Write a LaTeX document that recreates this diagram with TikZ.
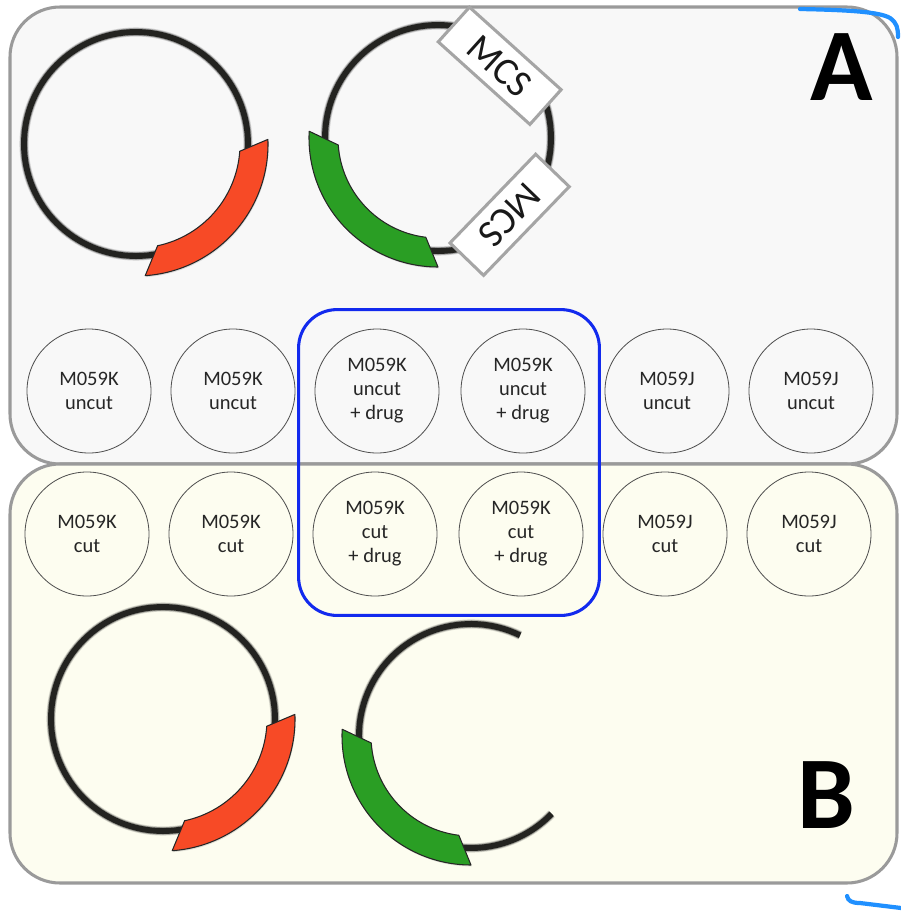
\documentclass[tikz,border=0pt]{standalone}
\usepackage{fontspec}
\setmainfont{Carlito}
\usetikzlibrary{fit,shadows}

\definecolor{panelgray}{RGB}{154,154,154}
\definecolor{panelA}{RGB}{248,248,248}
\definecolor{panelB}{RGB}{253,253,240}
\definecolor{dnablack}{RGB}{35,35,32}
\definecolor{ampred}{RGB}{247,74,38}
\definecolor{neogreen}{RGB}{42,158,36}
\definecolor{mcsgray}{RGB}{165,165,165}
\definecolor{groupblue}{RGB}{18,42,238}
\definecolor{markblue}{RGB}{32,144,255}
\definecolor{wellgray}{RGB}{80,80,80}

\begin{document}
\begin{tikzpicture}[x=0.03cm, y=0.03cm,
	panel/.style={draw=panelgray, line width=2.6pt, rounded corners=1.5cm},
	dna/.style={draw=dnablack, line width=5pt, preaction={draw=black, opacity=.15, line width=7.8pt}, preaction={draw=black, opacity=.3, line width=6.4pt}},
	marker/.style={draw=black!85, line width=0.9pt, line join=round, drop shadow={opacity=.25, shadow xshift=.6pt, shadow yshift=-1.2pt}},
	mcs/.style={draw=mcsgray, fill=white, line width=2.6pt, minimum width=3.7cm, minimum height=1.4cm, inner sep=0pt, text=black!90, font=\fontsize{33}{33}\selectfont},
	well/.style={circle, draw=wellgray, line width=0.7pt, minimum size=3.72cm, inner sep=0pt, align=center, text=black!85, font=\fontsize{17.5}{20.5}\selectfont},
	group/.style={draw=groupblue, line width=2.6pt, rounded corners=1.15cm, inner xsep=0.42cm, inner ysep=0.57cm},
	tag/.style={font=\bfseries\fontsize{88}{88}\selectfont},
	scribble/.style={draw=markblue, line width=3.6pt, line cap=round}]
	\useasboundingbox (0,0) rectangle (901,-913);

	% the two panels
	\draw[panel, fill=panelA] (10,-7) rectangle (897,-464);
	\draw[panel, fill=panelB] (10,-464) rectangle (897,-883);
	\node[tag] (tagA) at (842,-67) {A};
	\node[tag] (tagB) at (826,-795) {B};

	% plasmid with resistance gene
	\begin{scope}[shift={(136,-144)}]
		\draw[dna] (0,0) circle[radius=112];
		\filldraw[marker, fill=ampred] (-4:104) arc[start angle=-4, end angle=-78, radius=104] -- (-86:132) arc[start angle=-86, end angle=2, radius=132] -- cycle;
	\end{scope}

	% plasmid with two cloning sites
	\begin{scope}[shift={(438,-138)}]
		\draw[dna] (0,0) circle[radius=113];
		\filldraw[marker, fill=neogreen] (184:100) arc[start angle=184, end angle=263, radius=100] -- (270:129) arc[start angle=270, end angle=177, radius=129] -- cycle;
		\node[mcs, rotate=-42] (mcsTop) at (49.5:95) {MCS};
		\node[mcs, rotate=-134] (mcsBottom) at (-47:105) {MCS};
	\end{scope}

	% uncut wells
	\node[well] (w1) at (89,-391) {M059K\\uncut};
	\node[well] (w2) at (233,-391) {M059K\\uncut};
	\node[well] (w3) at (377,-391) {M059K\\uncut\\+ drug};
	\node[well] (w4) at (523,-391) {M059K\\uncut\\+ drug};
	\node[well] (w5) at (667,-391) {M059J\\uncut};
	\node[well] (w6) at (811,-391) {M059J\\uncut};

	% cut wells
	\node[well] (c1) at (87,-534) {M059K\\cut};
	\node[well] (c2) at (231,-534) {M059K\\cut};
	\node[well] (c3) at (375,-534) {M059K\\cut\\+ drug};
	\node[well] (c4) at (521,-534) {M059K\\cut\\+ drug};
	\node[well] (c5) at (665,-534) {M059J\\cut};
	\node[well] (c6) at (809,-534) {M059J\\cut};

	\node[group, fit=(w3)(w4)(c3)(c4)] (drugWells) {};

	% same plasmids after the cut
	\begin{scope}[shift={(163,-719)}]
		\draw[dna] (0,0) circle[radius=112];
		\filldraw[marker, fill=ampred] (-4:104) arc[start angle=-4, end angle=-78, radius=104] -- (-86:132) arc[start angle=-86, end angle=2, radius=132] -- cycle;
	\end{scope}
	\begin{scope}[shift={(471,-736)}]
		\draw[dna] (64:112) arc[start angle=64, end angle=316, radius=112];
		\filldraw[marker, fill=neogreen] (184:100) arc[start angle=184, end angle=263, radius=100] -- (270:129) arc[start angle=270, end angle=177, radius=129] -- cycle;
	\end{scope}

	% pen marks in the corners
	\draw[scribble] (800,-9) .. controls (850,-10) and (880,-12) .. (890,-18) .. controls (897,-23) and (898,-28) .. (898,-37);
	\draw[scribble] (847,-896) .. controls (848,-901) and (852,-903) .. (860,-903) -- (901,-908);
\end{tikzpicture}
\end{document}
